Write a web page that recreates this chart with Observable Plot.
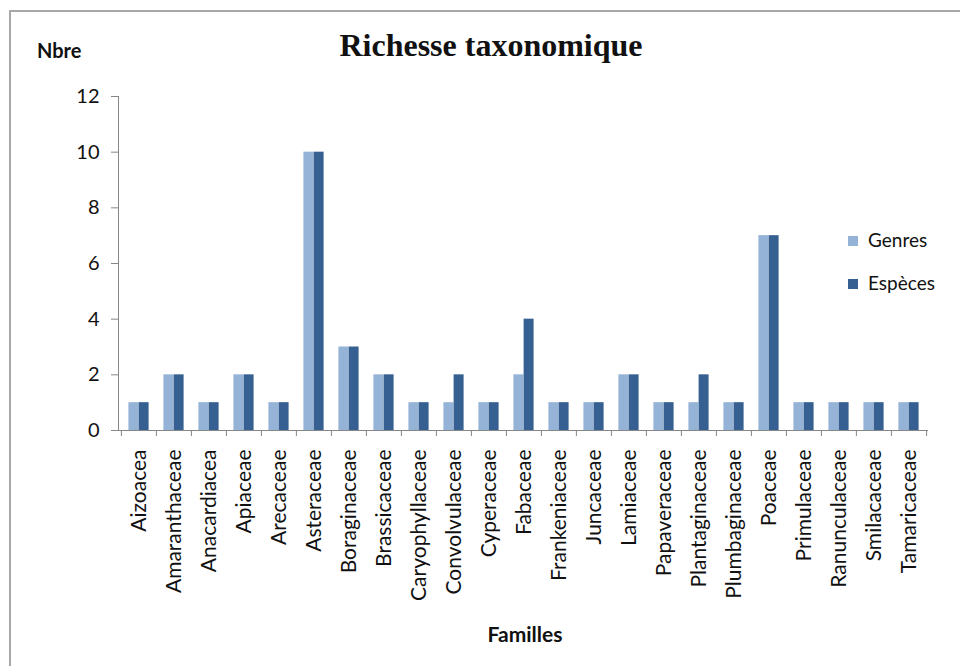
<!DOCTYPE html>
<html><head><meta charset="utf-8">
<script src="https://cdn.jsdelivr.net/npm/d3@7"></script>
<script src="https://cdn.jsdelivr.net/npm/@observablehq/plot@0.6"></script>
<style>
body{margin:0;background:#fff;}
#wrap{position:relative;width:960px;height:666px;overflow:hidden;background:#fff;font-family:Lato,sans-serif;color:#111;}
#border{position:absolute;left:9px;top:10px;width:1000px;height:700px;border-left:2px solid #a8a8a8;border-top:2px solid #a8a8a8;}
#chart{position:absolute;left:0;top:0;}
.t{position:absolute;white-space:nowrap;}
#title{left:0;width:982px;text-align:center;top:27px;font-family:"Liberation Serif",serif;font-weight:bold;font-size:32px;}
#ylab{left:37px;top:38px;font-weight:bold;font-size:20px;}
#xlab{left:0;width:1050px;text-align:center;top:621px;font-weight:bold;font-size:21px;}
.leg{left:848px;font-size:19px;}
.sw{display:inline-block;width:10px;height:10px;margin-right:10px;vertical-align:1px;}
</style></head>
<body>
<div id="wrap">
<div id="border"></div>
<div id="chart"></div>
<div class="t" id="title"></div>
<div class="t" id="ylab"></div>
<div class="t" id="xlab"></div>
<div id="legend"></div>
</div>
<script>
const families = ["Aizoacea","Amaranthaceae","Anacardiacea","Apiaceae","Arecaceae","Asteraceae","Boraginaceae","Brassicaceae","Caryophyllaceae","Convolvulaceae","Cyperaceae","Fabaceae","Frankeniaceae","Juncaceae","Lamiaceae","Papaveraceae","Plantaginaceae","Plumbaginaceae","Poaceae","Primulaceae","Ranunculaceae","Smilacaceae","Tamaricaceae"];
const genres  = [1,2,1,2,1,10,3,2,1,1,1,2,1,1,2,1,1,1,7,1,1,1,1];
const especes = [1,2,1,2,1,10,3,2,1,2,1,4,1,1,2,1,2,1,7,1,1,1,1];
const seriesNames = ["Genres","Espèces"];
const seriesColors = ["#95b3d7","#376092"];
const yTicks = [0,2,4,6,8,10,12];
const titleText = "Richesse taxonomique";
const yLabel = "Nbre";
const xLabel = "Familles";

document.getElementById("title").textContent = titleText;
document.getElementById("ylab").textContent = yLabel;
document.getElementById("xlab").textContent = xLabel;
const leg = document.getElementById("legend");
seriesNames.forEach((s,i)=>{
  const d = document.createElement("div");
  d.className = "t leg";
  d.style.top = (228 + i*43) + "px";
  d.innerHTML = `<span class="sw" style="background:${seriesColors[i]}"></span>`;
  d.appendChild(document.createTextNode(s));
  leg.appendChild(d);
});

const rows = families.flatMap((f,i)=>[
  {family:f, serie:seriesNames[0], value:genres[i]},
  {family:f, serie:seriesNames[1], value:especes[i]}
]);

const W = 960, H = 666, mL = 118, mR = 32, mT = 96, mB = 236;
const step = (W - mL - mR) / families.length;
const pad = 7.4;
const bw = (step - 2*pad) / 2;
const axisColor = "#868686";
const font = "Lato, sans-serif";

const chart = Plot.plot({
  width: W, height: H,
  marginLeft: mL, marginRight: mR, marginTop: mT, marginBottom: mB,
  style: {fontFamily: font, background: "transparent", color: "#111"},
  x: {type: "band", domain: families, padding: 0},
  y: {domain: [0, 12]},
  marks: [
    Plot.barY(rows.filter(d=>d.serie===seriesNames[0]), {x:"family", y:"value", fill: seriesColors[0], insetLeft: pad, insetRight: pad + bw}),
    Plot.barY(rows.filter(d=>d.serie===seriesNames[1]), {x:"family", y:"value", fill: seriesColors[1], insetLeft: pad + bw, insetRight: pad}),
    Plot.frame({anchor: "left", stroke: axisColor}),
    Plot.ruleY([0], {stroke: axisColor}),
    Plot.ruleX(families, {x: d=>d, y1: 0, y2: 0, dx: -step/2, insetBottom: -6, stroke: axisColor}),
    Plot.ruleX(families.slice(-1), {x: d=>d, y1: 0, y2: 0, dx: step/2, insetBottom: -6, stroke: axisColor}),
    Plot.axisY({ticks: yTicks, tickSize: 7, tickPadding: 12, fontSize: 20, label: null, stroke: axisColor}),
    Plot.axisX({tickSize: 0, tickRotate: -90, tickPadding: 19, fontSize: 21, label: null})
  ]
});
document.getElementById("chart").appendChild(chart);
</script>
</body></html>
